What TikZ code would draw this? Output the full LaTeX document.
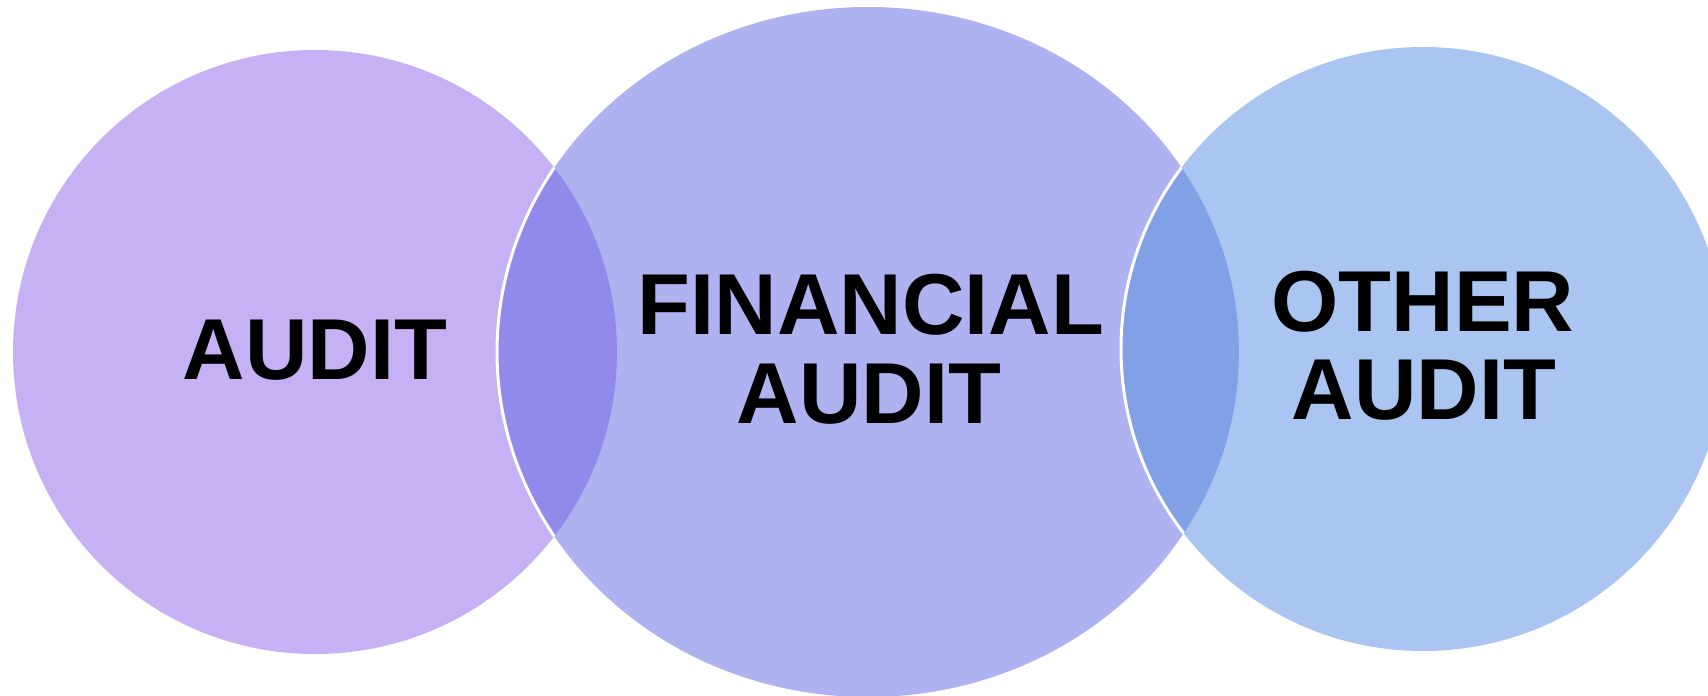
\documentclass[tikz,border=0pt]{standalone}
\usepackage{fontspec}
\setmainfont{Liberation Sans}
\definecolor{leftfill}{HTML}{C5B1F3}
\definecolor{midfill}{HTML}{AFB2F1}
\definecolor{rightfill}{HTML}{AAC5F1}
\definecolor{lapA}{HTML}{918AEA}
\definecolor{lapB}{HTML}{82A0E6}
\tikzset{
  lbl/.style={font=\fontsize{86.5}{90}\selectfont\bfseries, text=black, inner sep=0pt, anchor=base},
  rim/.style={draw=white, line width=3pt}
}
\begin{document}
\begin{tikzpicture}[x=1pt, y=-1pt]
  \useasboundingbox (0,0) rectangle (1708,696);
  \clip (0,0) rectangle (1708,696);
  % the three sets
  \fill[leftfill] (315,352) circle [radius=302];
  \fill[midfill] (868,352) ellipse [x radius=371, y radius=345];
  \fill[rightfill] (1423,349) circle [radius=302];
  % overlaps
  \begin{scope}
    \clip (315,352) circle [radius=302];
    \fill[lapA] (868,352) ellipse [x radius=371, y radius=345];
    \draw[rim] (868,352) ellipse [x radius=371, y radius=345];
  \end{scope}
  \begin{scope}
    \clip (868,352) ellipse [x radius=371, y radius=345];
    \fill[lapB] (1423,349) circle [radius=302];
    \draw[rim] (1423,349) circle [radius=302];
  \end{scope}
  % labels
  \node[lbl] (audit) at (315,379) {AUDIT};
  \node[lbl] (fin) at (871,334) {FINANCIAL};
  \node[lbl] (finaudit) at (869,423) {AUDIT};
  \node[lbl] (other) at (1423,331) {OTHER};
  \node[lbl] (otheraudit) at (1424,419) {AUDIT};
\end{tikzpicture}
\end{document}
